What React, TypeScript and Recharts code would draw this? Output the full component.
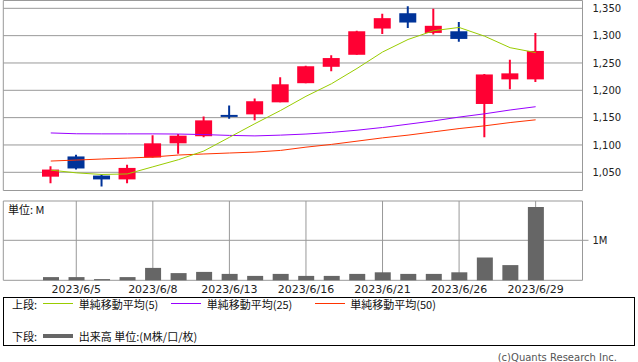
import React from 'react';
import {
  ComposedChart,
  Bar,
  Line,
  XAxis,
  YAxis,
  CartesianGrid,
  ReferenceArea,
} from 'recharts';

// Daily data (June 2023)
const dates = [
  '2023/6/2', '2023/6/5', '2023/6/6', '2023/6/7', '2023/6/8',
  '2023/6/9', '2023/6/12', '2023/6/13', '2023/6/14', '2023/6/15',
  '2023/6/16', '2023/6/19', '2023/6/20', '2023/6/21', '2023/6/22',
  '2023/6/23', '2023/6/26', '2023/6/27', '2023/6/28', '2023/6/29',
];
const opens = [1042, 1079, 1044, 1037, 1077, 1103, 1116, 1155, 1156, 1178, 1213, 1243, 1265, 1313, 1341, 1305, 1308, 1175, 1220, 1220];
const highs = [1061, 1082, 1046, 1064, 1118, 1120, 1152, 1172, 1185, 1224, 1245, 1264, 1309, 1340, 1354, 1349, 1325, 1230, 1256, 1305];
const lows = [1030, 1055, 1024, 1030, 1077, 1084, 1114, 1148, 1145, 1178, 1213, 1235, 1265, 1303, 1314, 1302, 1289, 1114, 1202, 1215];
const closes = [1055, 1057, 1037, 1058, 1103, 1117, 1145, 1153, 1180, 1211, 1244, 1259, 1308, 1332, 1324, 1318, 1294, 1229, 1231, 1272];

const sma5 = [1054, 1049, 1046, 1047, 1060, 1073, 1089, 1114, 1139, 1163, 1189, 1212, 1240, 1270, 1293, 1309, 1315, 1299, 1278, 1269];
const sma25 = [1122, 1120.5, 1120.3, 1120.3, 1120.3, 1120, 1119, 1117.5, 1116.6, 1118, 1120, 1123, 1127, 1132, 1138, 1144, 1151, 1157, 1164, 1170];
const sma50 = [1070.6, 1072.4, 1074.3, 1076, 1078, 1081.6, 1083.5, 1085.3, 1087, 1090, 1096, 1101, 1107, 1113, 1118, 1124, 1130, 1135, 1141, 1146];

const volumes = [80000, 80000, 30000, 80000, 310000, 180000, 210000, 160000, 110000, 160000, 110000, 110000, 160000, 200000, 160000, 160000, 200000, 570000, 380000, 1830000];

const dateTicks = ['2023/6/5', '2023/6/8', '2023/6/13', '2023/6/16', '2023/6/21', '2023/6/26', '2023/6/29'];
const priceTicks = [1050, 1100, 1150, 1200, 1250, 1300, 1350];
const volumeTicks = [1000000];

const UP = '#ff0033';
const DOWN = '#003399';
const GRID = '#999999';
const FONT = '"DejaVu Sans", sans-serif';
const JP = '"Noto Sans CJK JP", sans-serif';

const rows = dates.map((date, i) => ({
  date,
  open: opens[i],
  high: highs[i],
  low: lows[i],
  close: closes[i],
  range: [lows[i], highs[i]],
  sma5: sma5[i],
  sma25: sma25[i],
  sma50: sma50[i],
  volume: volumes[i],
}));

const Candle = (props: any) => {
  const { x, y, width, height, payload } = props;
  const { open, high, low, close } = payload;
  const top = Math.min(y, y + height);
  const h = Math.abs(height);
  const k = high === low ? 0 : h / (high - low);
  const color = close >= open ? UP : DOWN;
  const bodyTop = top + (high - Math.max(open, close)) * k;
  const bodyH = Math.max(Math.abs(close - open) * k, 2);
  const cx = x + width / 2;
  return (
    <g>
      <line x1={cx} x2={cx} y1={top} y2={top + h} stroke={color} strokeWidth={2} />
      <rect x={x} y={bodyTop} width={width} height={bodyH} fill={color} />
    </g>
  );
};

const xPadding = { left: 34.7, right: 34.1 };

function LegendLine({ left, top, color, thick }: { left: number; top: number; color: string; thick?: boolean }) {
  const h = thick ? 4 : 1;
  return (
    <div
      style={{
        position: 'absolute',
        left,
        top: top - h / 2,
        width: 30,
        height: h,
        background: color,
      }}
    />
  );
}

function LegendText({ left, top, children }: { left: number; top: number; children: React.ReactNode }) {
  return (
    <div
      style={{
        position: 'absolute',
        left,
        top: top - 8,
        height: 16,
        lineHeight: '16px',
        fontSize: 11,
        fontFamily: JP,
        color: '#111',
        whiteSpace: 'nowrap',
      }}
    >
      {children}
    </div>
  );
}

export default function App() {
  return (
    <div
      style={{
        position: 'absolute',
        left: 0,
        top: 0,
        width: 638,
        height: 362,
        background: '#fff',
        overflow: 'hidden',
      }}
    >
      {/* upper panel: candles + moving averages */}
      <div style={{ position: 'absolute', left: 0, top: 0 }}>
        <ComposedChart
          width={638}
          height={191}
          data={rows}
          margin={{ top: 0.5, right: 0, bottom: 0.5, left: 3.3 }}
          style={{ fontFamily: FONT }}
        >
          <CartesianGrid stroke={GRID} strokeWidth={1} />
          <XAxis
            dataKey="date"
            ticks={dateTicks}
            padding={xPadding}
            height={0}
            tick={false}
            axisLine={false}
            tickLine={false}
          />
          <YAxis
            orientation="right"
            domain={[1016.7, 1364.3]}
            ticks={priceTicks}
            allowDataOverflow
            width={55.5}
            axisLine={false}
            tickLine={false}
            tickSize={6}
            tickMargin={4}
            tick={{ fill: '#222', fontSize: 10 }}
            tickFormatter={(v: number) => v.toLocaleString('en-US')}
          />
          <ReferenceArea fill="none" stroke={GRID} strokeWidth={1} ifOverflow="visible" />
          <Bar dataKey="range" barSize={17} shape={Candle} isAnimationActive={false} />
          <Line dataKey="sma50" stroke="#ff3300" strokeWidth={1} dot={false} isAnimationActive={false} />
          <Line dataKey="sma25" stroke="#9900ff" strokeWidth={1} dot={false} isAnimationActive={false} />
          <Line dataKey="sma5" stroke="#99cc00" strokeWidth={1} dot={false} isAnimationActive={false} />
        </ComposedChart>
      </div>

      {/* lower panel: volume */}
      <div style={{ position: 'absolute', left: 0, top: 200 }}>
        <ComposedChart
          width={638}
          height={100}
          data={rows}
          margin={{ top: 1, right: 0, bottom: 0, left: 3.3 }}
          style={{ fontFamily: FONT }}
        >
          <CartesianGrid stroke={GRID} strokeWidth={1} />
          <XAxis
            dataKey="date"
            ticks={dateTicks}
            padding={xPadding}
            height={19.7}
            axisLine={false}
            tickLine={false}
            tickSize={0}
            tickMargin={5}
            interval={0}
            tick={{ fill: '#222', fontSize: 11 }}
          />
          <YAxis
            orientation="right"
            domain={[0, 1982500]}
            ticks={volumeTicks}
            width={55.5}
            axisLine={false}
            tickLine={{ stroke: GRID }}
            tickSize={6}
            tickMargin={4}
            tick={{ fill: '#222', fontSize: 10 }}
            tickFormatter={(v: number) => `${v / 1000000}M`}
          />
          <ReferenceArea fill="none" stroke={GRID} strokeWidth={1} ifOverflow="visible" />
          <Bar dataKey="volume" barSize={16} fill="#666666" isAnimationActive={false} />
        </ComposedChart>
      </div>

      <div
        style={{
          position: 'absolute',
          left: 8,
          top: 201,
          fontSize: 11,
          lineHeight: '16px',
          fontFamily: JP,
          color: '#111',
        }}
      >
        単位: M
      </div>

      {/* legend box */}
      <div
        style={{
          position: 'absolute',
          left: 3,
          top: 297,
          width: 630,
          height: 47,
          border: '1px solid #000',
        }}
      />
      <LegendText left={12} top={303.5}>上段:</LegendText>
      <LegendLine left={43.3} top={303.5} color="#99cc00" />
      <LegendText left={78.7} top={303.5}>単純移動平均(5)</LegendText>
      <LegendLine left={171} top={303.5} color="#9900ff" />
      <LegendText left={206.7} top={303.5}>単純移動平均(25)</LegendText>
      <LegendLine left={315} top={303.5} color="#ff3300" />
      <LegendText left={350.3} top={303.5}>単純移動平均(50)</LegendText>
      <LegendText left={12} top={335.7}>下段:</LegendText>
      <LegendLine left={43.3} top={335.7} color="#666666" thick />
      <LegendText left={78.7} top={335.7}>出来高 単位:(M株/口/枚)</LegendText>

      <div
        style={{
          position: 'absolute',
          right: 21,
          top: 351,
          fontSize: 10,
          lineHeight: '14px',
          fontFamily: FONT,
          color: '#555',
          whiteSpace: 'nowrap',
        }}
      >
        (c)Quants Research Inc.
      </div>
    </div>
  );
}
